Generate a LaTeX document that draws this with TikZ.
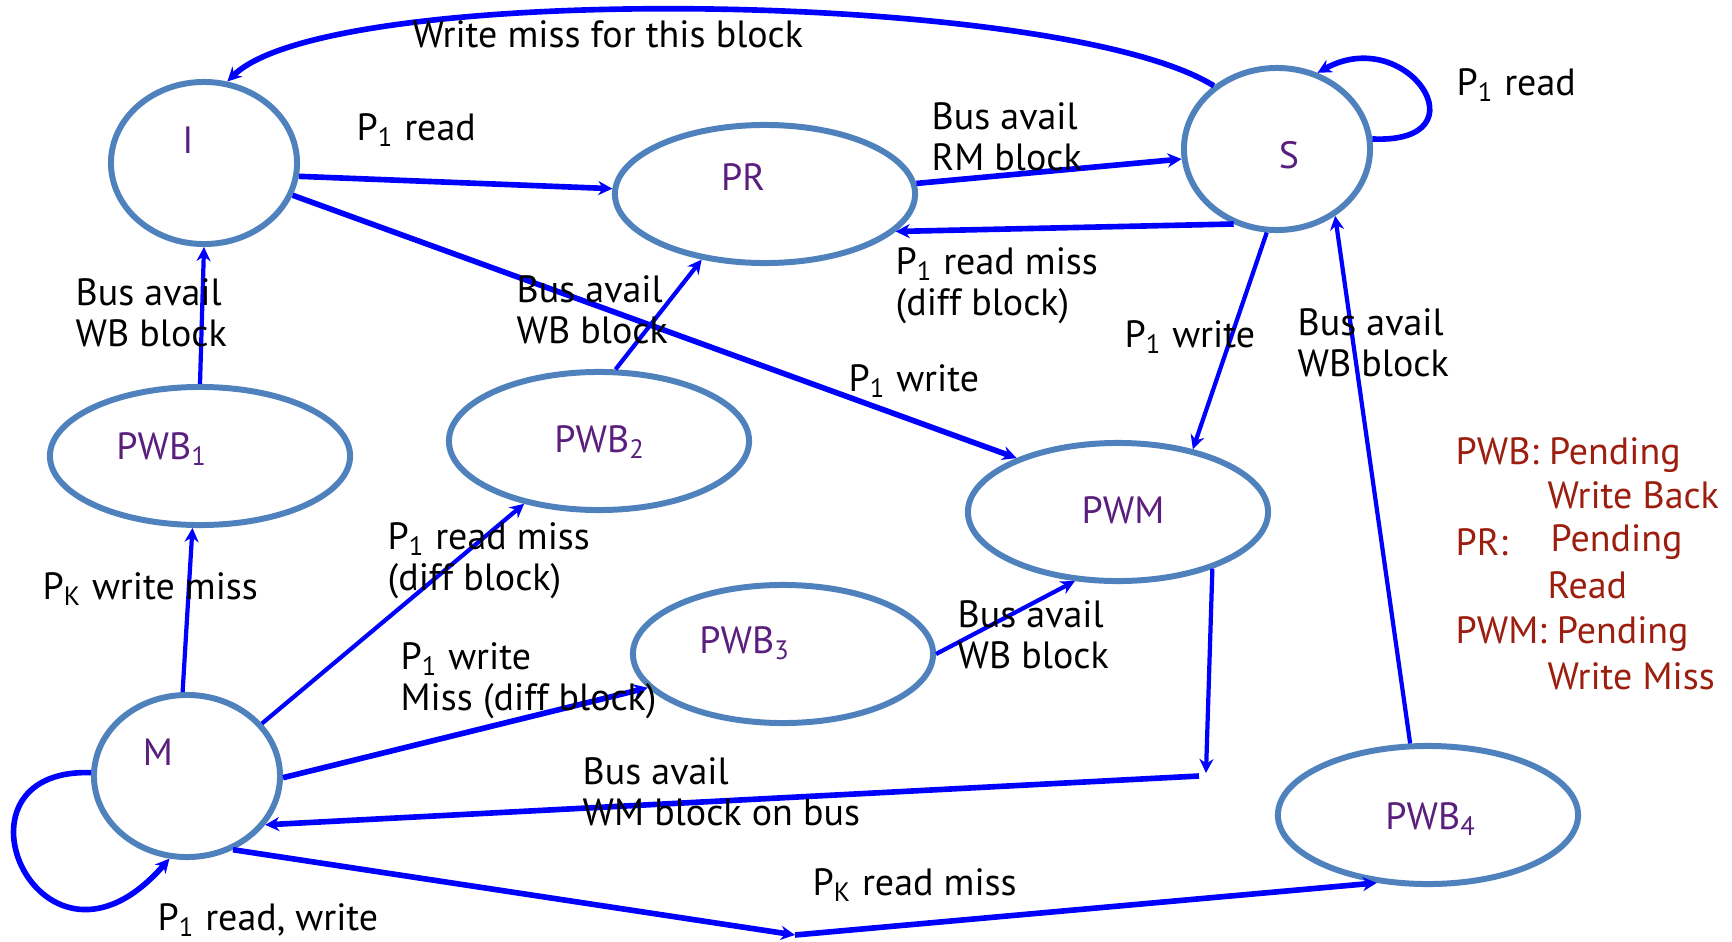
\documentclass[tikz,border=0pt]{standalone}
\usepackage{fontspec}
\setmainfont{PT Sans}
\usetikzlibrary{shapes.geometric,arrows.meta}

\definecolor{stateline}{RGB}{79,129,189}
\definecolor{statetext}{RGB}{90,30,125}
\definecolor{legendred}{RGB}{155,30,15}
\definecolor{arrowblue}{RGB}{0,0,255}

\begin{document}
\begin{tikzpicture}[
    x=0.01cm, y=-0.01cm,
    font=\fontsize{10.8}{11.7}\selectfont,
    statesm/.style={ellipse, draw=stateline, line width=1.7pt, minimum width=1.86cm, minimum height=1.62cm, inner sep=0pt},
    statelg/.style={ellipse, draw=stateline, line width=1.7pt, minimum width=3cm, minimum height=1.38cm, inner sep=0pt},
    sname/.style={text=statetext, inner sep=0pt},
    lbl/.style={anchor=west, align=left, inner sep=0pt},
    legend/.style={anchor=west, text=legendred, inner sep=0pt},
    arrow/.style={-{Stealth[length=4pt,width=4pt]}, draw=arrowblue, line width=1.2pt},
    heavy/.style={arrow, line width=1.6pt}
]
    \useasboundingbox (0,0) rectangle (1732,942);

    % States
    \node[statesm] (I) at (204,163) {};
    \node[statelg] (PR) at (765,194) {};
    \node[statesm] (S) at (1277,149) {};
    \node[statelg] (PWB1) at (200,456) {};
    \node[statelg] (PWB2) at (599,441) {};
    \node[statelg] (PWM) at (1118,512) {};
    \node[statelg] (PWB3) at (783,654) {};
    \node[statesm] (M) at (187,776) {};
    \node[statelg] (PWB4) at (1428,815) {};

    % State names
    \node[sname] (I-t) at (188,140) {I};
    \node[sname] (PR-t) at (743,177) {PR};
    \node[sname] (S-t) at (1289,155) {S};
    \node[sname] (PWB1-t) at (162,449) {PWB\textsubscript{1}};
    \node[sname] (PWB2-t) at (600,442) {PWB\textsubscript{2}};
    \node[sname] (PWM-t) at (1123,510) {PWM};
    \node[sname] (PWB3-t) at (745,643) {PWB\textsubscript{3}};
    \node[sname] (M-t) at (158,752) {M};
    \node[sname] (PWB4-t) at (1431,819) {PWB\textsubscript{4}};

    % Bend points
    \coordinate (wmdrop) at (1206,773);
    \coordinate (wmfrom) at (1199,776);
    \coordinate (rmdip) at (795,935);

    % Transitions
    \draw[heavy] (S.135) .. controls (1060,-10) and (330,-20) .. (I.74);
    \draw[heavy] (S.6) .. controls +(115,5) and +(90,-50) .. (S.62);
    \draw[heavy] (I.-8) -- (PR.178);
    \draw[heavy] (I.-20) -- (PWM.152);
    \draw[heavy] (PR.4) -- (S.186);
    \draw[heavy] (S.-120) -- (PR.-16);
    \draw[arrow] (PWB1.north) -- (I.south);
    \draw[arrow] (PWB2.77) -- (PR.-134);
    \draw[arrow] (S.-97) -- (PWM.40);
    \draw[arrow] (PWB4.104) -- (S.-49);
    \draw[arrow] (M.93) -- (PWB1.-96);
    \draw[arrow] (M.35) -- (PWB2.-140);
    \draw[heavy] (M.-1) -- (PWB3.194);
    \draw[arrow] (PWB3.0) -- (PWM.-122);
    \draw[arrow] (PWM.-31) -- (wmdrop);
    \draw[heavy] (wmfrom) -- (M.-32);
    \draw[heavy] (M.-58) -- (rmdip);
    \draw[heavy] (rmdip) -- (PWB4.-127);
    \draw[heavy] (M.178) .. controls +(-155,-5) and +(-128,147) .. (M.-102);

    % Transition labels
    \node[lbl] (l-wm) at (412,34) {Write miss for this block};
    \node[lbl] (l-ir) at (356,130) {P\textsubscript{1} read};
    \node[lbl] (l-rs) at (931,137) {Bus avail\\RM block};
    \node[lbl] (l-ss) at (1456,85) {P\textsubscript{1} read};
    \node[lbl] (l-sr) at (895,286) {P\textsubscript{1} read miss\\(diff block)};
    \node[lbl] (l-b1) at (75,313) {Bus avail\\WB block};
    \node[lbl] (l-b2) at (516,310) {Bus avail\\WB block};
    \node[lbl] (l-iw) at (848,381) {P\textsubscript{1} write};
    \node[lbl] (l-sw) at (1124,337) {P\textsubscript{1} write};
    \node[lbl] (l-b4) at (1297,343) {Bus avail\\WB block};
    \node[lbl] (l-kw) at (42,589) {P\textsubscript{K} write miss};
    \node[lbl] (l-mr) at (387,561) {P\textsubscript{1} read miss\\(diff block)};
    \node[lbl] (l-mw) at (400,681) {P\textsubscript{1} write\\Miss (diff block)};
    \node[lbl] (l-b3) at (957,635) {Bus avail\\WB block};
    \node[lbl] (l-wb) at (582,792) {Bus avail\\WM block on bus};
    \node[lbl] (l-kr) at (812,885) {P\textsubscript{K} read miss};
    \node[lbl] (l-mm) at (157,920) {P\textsubscript{1} read, write};

    % Legend
    \node[legend] (g-pwb) at (1455,455) {PWB: Pending};
    \node[legend] (g-pwb2) at (1547,495) {Write Back};
    \node[legend] (g-pr) at (1455,542) {PR:};
    \node[legend] (g-pr1) at (1550,542) {Pending};
    \node[legend] (g-pr2) at (1547,585) {Read};
    \node[legend] (g-pwm) at (1455,634) {PWM: Pending};
    \node[legend] (g-pwm2) at (1547,676) {Write Miss};
\end{tikzpicture}
\end{document}
